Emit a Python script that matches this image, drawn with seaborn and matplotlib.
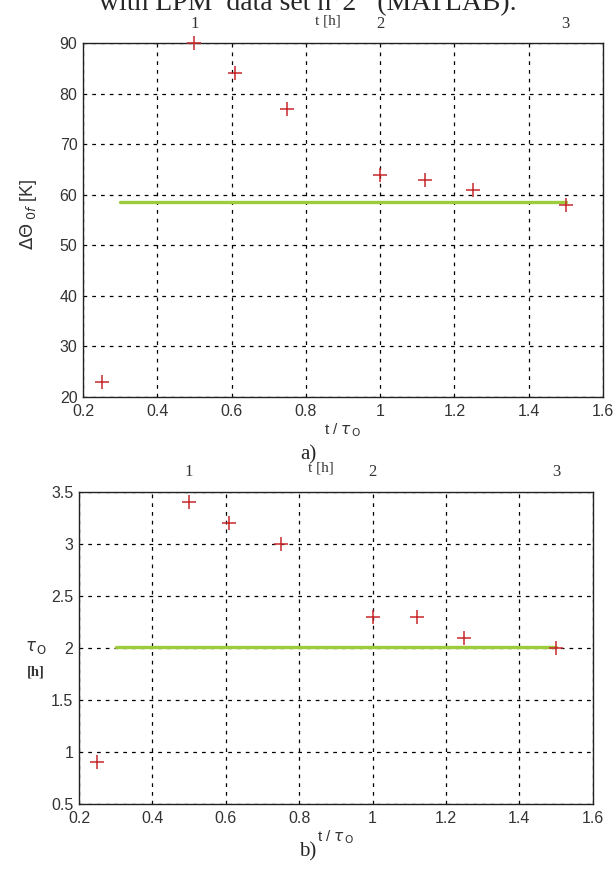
import matplotlib
matplotlib.use("Agg")
import matplotlib.pyplot as plt
import seaborn as sns
import pandas as pd

# ratio t / tau_0 and the two estimated quantities
ratio = [0.25, 0.5, 0.61, 0.75, 1.0, 1.12, 1.25, 1.5]
delta_theta = [23, 90, 84, 77, 64, 63, 61, 58]
tau0 = [0.9, 3.4, 3.2, 3.0, 2.3, 2.3, 2.1, 2.0]

# reference (LPM) values drawn as horizontal lines
ref_x = [0.3, 1.5]
ref_theta = [58.5, 58.5]
ref_tau = [2.01, 2.01]

hour_ticks = [1, 2, 3]

sns.set_style("white")
plt.rcParams["font.family"] = ["Liberation Sans", "DejaVu Sans"]
plt.rcParams["mathtext.fontset"] = "dejavusans"

fig = plt.figure(figsize=(6.16, 8.73), dpi=100)
ax1 = fig.add_axes([0.1347, 0.5452, 0.844, 0.4055])
ax2 = fig.add_axes([0.1282, 0.0790, 0.834, 0.3574])

df = pd.DataFrame({"ratio": ratio, "theta": delta_theta, "tau": tau0})
ref = pd.DataFrame({"x": ref_x, "theta": ref_theta, "tau": ref_tau})

serif = ["Liberation Serif", "DejaVu Serif"]


def style_axes(ax, ylim, yticks, ytick_labels, top_pad):
    ax.set_xlim(0.2, 1.6)
    ax.set_ylim(*ylim)
    ax.set_xticks([0.2, 0.4, 0.6, 0.8, 1.0, 1.2, 1.4, 1.6])
    ax.set_xticklabels(["0.2", "0.4", "0.6", "0.8", "1", "1.2", "1.4", "1.6"])
    ax.set_yticks(yticks)
    ax.set_yticklabels(ytick_labels)
    ax.grid(True, color="black", linestyle=(0, (3, 4)), linewidth=0.9)
    for s in ax.spines.values():
        s.set_color("#222222")
        s.set_linewidth(1.0)
    ax.tick_params(axis="both", length=0, labelsize=11.5, labelcolor="#333333")
    ax.tick_params(axis="x", pad=5)
    ax.tick_params(axis="y", pad=4)
    ax.set_xlabel(r"t / $\tau_{\,\mathrm{O}}$", fontsize=11, color="#333333", labelpad=2)
    ax.set_ylabel("")

    top = ax.secondary_xaxis("top", functions=(lambda x: 2 * x, lambda t: t / 2))
    top.set_xticks(hour_ticks)
    top.set_xticklabels([str(h) for h in hour_ticks], fontfamily=serif)
    top.tick_params(length=0, pad=top_pad, labelsize=12, labelcolor="#333333")
    top.spines["top"].set_visible(False)
    ax.annotate("t [h]", xy=(0.86, 1.0), xycoords=("data", "axes fraction"),
                xytext=(0, top_pad + 8), textcoords="offset points", ha="center",
                va="center", fontsize=11, family=serif, color="#333333")


for ax, col, ylim, yt, ytl, pad in [
    (ax1, "theta", (20, 90), [20, 30, 40, 50, 60, 70, 80, 90],
     ["20", "30", "40", "50", "60", "70", "80", "90"], 8),
    (ax2, "tau", (0.5, 3.5), [0.5, 1, 1.5, 2, 2.5, 3, 3.5],
     ["0.5", "1", "1.5", "2", "2.5", "3", "3.5"], 9),
]:
    sns.lineplot(data=ref, x="x", y=col, ax=ax, color="#9ccc3c", linewidth=2.4)
    sns.scatterplot(data=df, x="ratio", y=col, ax=ax, marker="+", s=90,
                    color="#c8282d", linewidth=1.1, clip_on=False, zorder=5)
    style_axes(ax, ylim, yt, ytl, pad)

# axis titles
fig.text(0.047, 0.754, r"$\Delta\Theta_{\ 0f}$ [K]", rotation=90, ha="center",
         va="center", fontsize=13, color="#333333")
fig.text(0.058, 0.258, r"$\tau_{\,\mathrm{O}}$", ha="center", va="center",
         fontsize=12, color="#333333")
fig.text(0.058, 0.230, "[h]", ha="center", va="center", fontsize=10.5,
         family=serif, fontweight="bold", color="#333333")

# panel captions and clipped header line
fig.text(0.5, 0.479, "a)", ha="center", va="center", fontsize=15, family=serif)
fig.text(0.5, 0.024, "b)", ha="center", va="center", fontsize=15, family=serif)
fig.text(0.5, 0.9885, "with LPM  data set n\u00b02   (MATLAB).", ha="center",
         va="baseline", fontsize=20, family=serif)

fig.savefig("out.png", dpi=100, facecolor="white")
